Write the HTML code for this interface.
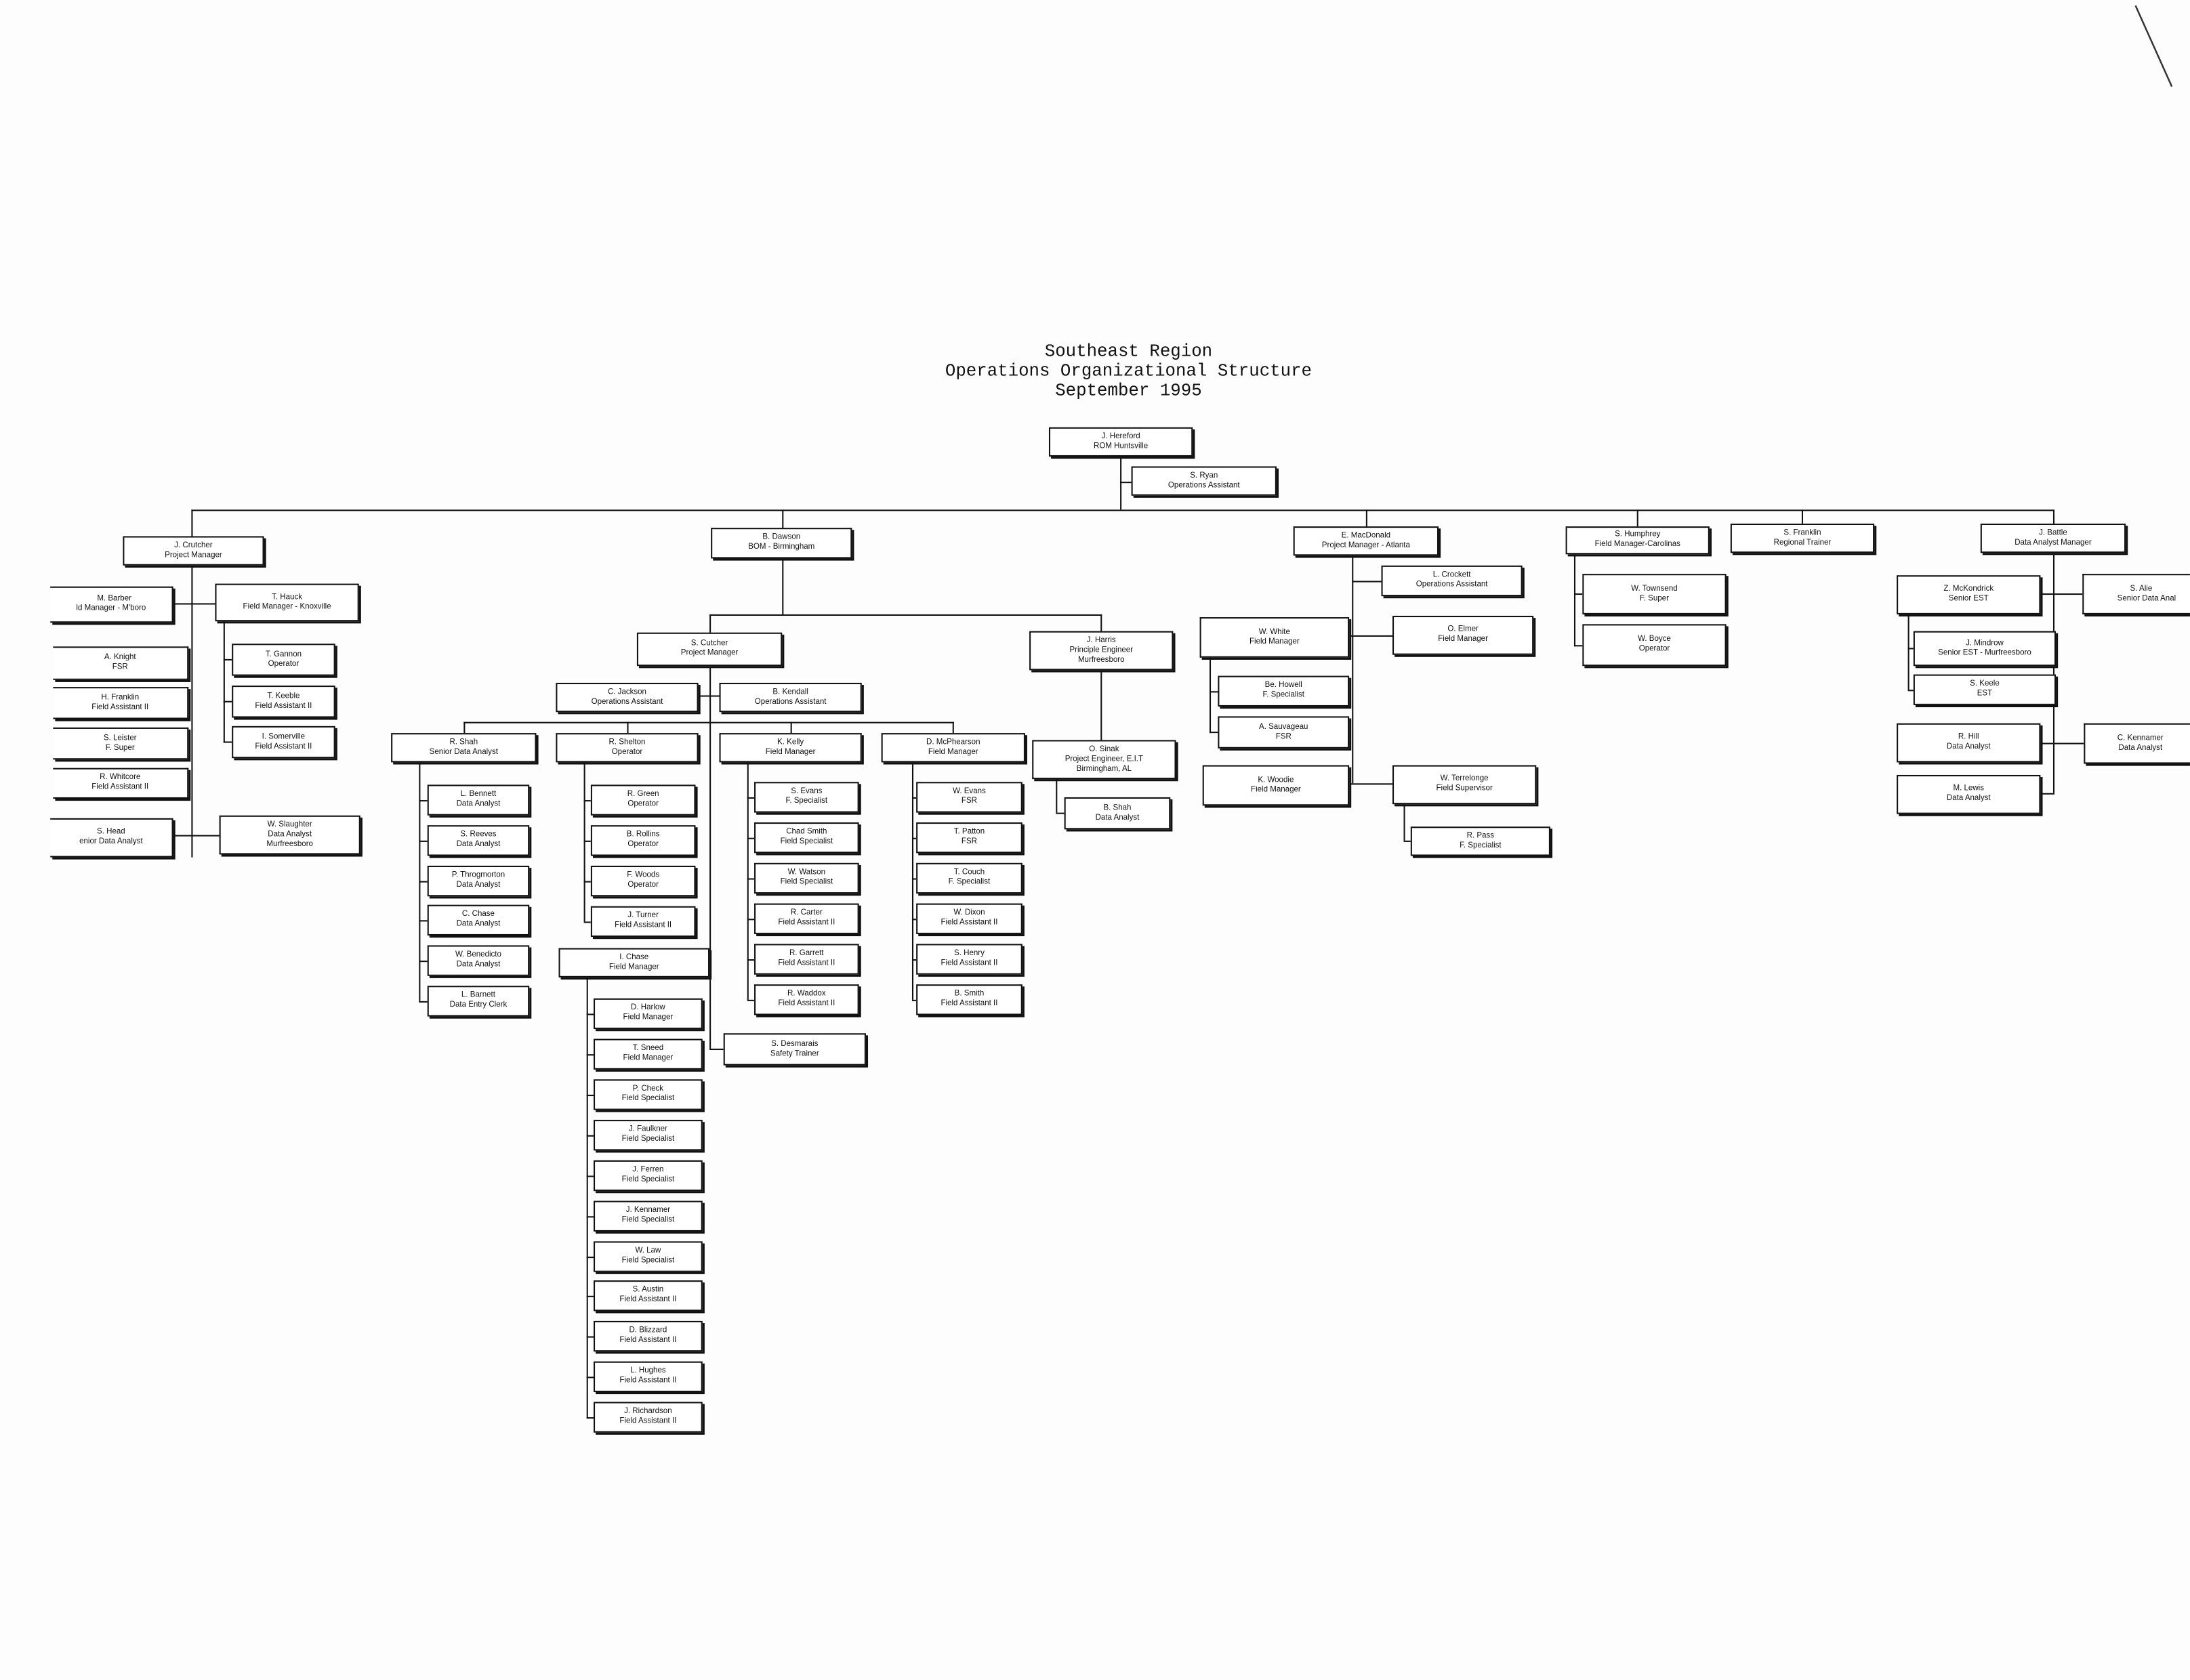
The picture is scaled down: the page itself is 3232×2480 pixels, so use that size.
<!DOCTYPE html>
<html><head><meta charset="utf-8"><style>
html,body{margin:0;padding:0;background:#fdfdfd;}
#w{position:absolute;left:0;top:0;width:1568px;height:1203px;transform:scale(2.0612);transform-origin:0 0;overflow:hidden;}
.b{position:absolute;box-sizing:border-box;border:1px solid #111;box-shadow:1.5px 1.5px 0 #111;background:#fff;display:flex;align-items:center;justify-content:center;text-align:center;font-family:"Liberation Sans",sans-serif;font-size:5.6px;line-height:7px;color:#111;white-space:nowrap;overflow:hidden;}
.h{position:absolute;height:1px;background:#111;}
.v{position:absolute;width:1px;background:#111;}
.t{position:absolute;left:608px;width:400px;text-align:center;font-family:"Liberation Mono",monospace;font-size:12.5px;line-height:14px;color:#111;}
</style></head><body><div id="w">
<div class="t" style="top:245px">Southeast Region<br>Operations Organizational Structure<br>September 1995</div>
<svg style="position:absolute;left:1525px;top:0" width="43" height="70"><line x1="4" y1="4" x2="30" y2="62" stroke="#333" stroke-width="1.2"/></svg>

<!-- top -->
<div class="v" style="left:802px;top:327px;height:38px"></div>
<div class="h" style="left:802px;top:345px;width:8px"></div>
<div class="h" style="left:137px;top:365px;width:1334px"></div>
<div class="v" style="left:137px;top:365px;height:249px"></div>
<div class="v" style="left:560px;top:365px;height:75px"></div>
<div class="v" style="left:978px;top:365px;height:13px"></div>
<div class="v" style="left:1172px;top:365px;height:12px"></div>
<div class="v" style="left:1290px;top:365px;height:10px"></div>
<div class="v" style="left:1470px;top:365px;height:203px"></div>
<div class="b" style="left:751px;top:306px;width:103px;height:21px">J. Hereford<br>ROM Huntsville</div>
<div class="b" style="left:810px;top:334px;width:104px;height:21px">S. Ryan<br>Operations Assistant</div>

<!-- Crutcher -->
<div class="b" style="left:88px;top:384px;width:101px;height:21px">J. Crutcher<br>Project Manager</div>
<div class="h" style="left:124px;top:432px;width:30px"></div>
<div class="b" style="left:36px;top:420px;width:88px;height:26px;border-left:none">&nbsp;&nbsp;&nbsp;M. Barber<br>ld Manager - M'boro</div>
<div class="b" style="left:154px;top:418px;width:103px;height:27px">T. Hauck<br>Field Manager - Knoxville</div>
<div class="b" style="left:38px;top:463px;width:97px;height:24px;border-left:none">A. Knight<br>FSR</div>
<div class="b" style="left:38px;top:492px;width:97px;height:23px;border-left:none">H. Franklin<br>Field Assistant II</div>
<div class="b" style="left:38px;top:521px;width:97px;height:23px;border-left:none">S. Leister<br>F. Super</div>
<div class="b" style="left:38px;top:550px;width:97px;height:22px;border-left:none">R. Whitcore<br>Field Assistant II</div>
<div class="h" style="left:124px;top:598px;width:33px"></div>
<div class="b" style="left:36px;top:586px;width:88px;height:28px;border-left:none">S. Head<br>enior Data Analyst</div>
<div class="b" style="left:157px;top:584px;width:101px;height:28px">W. Slaughter<br>Data Analyst<br>Murfreesboro</div>
<div class="v" style="left:160px;top:445px;height:87px"></div>
<div class="h" style="left:160px;top:472px;width:6px"></div>
<div class="h" style="left:160px;top:502px;width:6px"></div>
<div class="h" style="left:160px;top:531px;width:6px"></div>
<div class="b" style="left:166px;top:461px;width:74px;height:23px">T. Gannon<br>Operator</div>
<div class="b" style="left:166px;top:491px;width:74px;height:23px">T. Keeble<br>Field Assistant II</div>
<div class="b" style="left:166px;top:520px;width:74px;height:23px">I. Somerville<br>Field Assistant II</div>

<!-- Dawson -->
<div class="b" style="left:509px;top:378px;width:101px;height:22px">B. Dawson<br>BOM - Birmingham</div>
<div class="h" style="left:508px;top:440px;width:281px"></div>
<div class="v" style="left:508px;top:440px;height:311px"></div>
<div class="v" style="left:788px;top:440px;height:90px"></div>
<div class="b" style="left:456px;top:453px;width:104px;height:24px">S. Cutcher<br>Project Manager</div>
<div class="b" style="left:737px;top:452px;width:103px;height:28px">J. Harris<br>Principle Engineer<br>Murfreesboro</div>
<div class="h" style="left:500px;top:498px;width:15px"></div>
<div class="b" style="left:398px;top:489px;width:102px;height:21px">C. Jackson<br>Operations Assistant</div>
<div class="b" style="left:515px;top:489px;width:102px;height:21px">B. Kendall<br>Operations Assistant</div>
<div class="h" style="left:332px;top:517px;width:351px"></div>
<div class="v" style="left:332px;top:517px;height:8px"></div>
<div class="v" style="left:449px;top:517px;height:8px"></div>
<div class="v" style="left:566px;top:517px;height:8px"></div>
<div class="v" style="left:682px;top:517px;height:8px"></div>
<div class="b" style="left:280px;top:525px;width:104px;height:21px">R. Shah<br>Senior Data Analyst</div>
<div class="b" style="left:398px;top:525px;width:102px;height:21px">R. Shelton<br>Operator</div>
<div class="b" style="left:515px;top:525px;width:102px;height:21px">K. Kelly<br>Field Manager</div>
<div class="b" style="left:631px;top:525px;width:103px;height:21px">D. McPhearson<br>Field Manager</div>

<!-- Shah children -->
<div class="v" style="left:300px;top:546px;height:171px"></div>
<div class="h" style="left:300px;top:573px;width:6px"></div>
<div class="h" style="left:300px;top:602px;width:6px"></div>
<div class="h" style="left:300px;top:631px;width:6px"></div>
<div class="h" style="left:300px;top:659px;width:6px"></div>
<div class="h" style="left:300px;top:688px;width:6px"></div>
<div class="h" style="left:300px;top:717px;width:6px"></div>
<div class="b" style="left:306px;top:562px;width:73px;height:22px">L. Bennett<br>Data Analyst</div>
<div class="b" style="left:306px;top:591px;width:73px;height:22px">S. Reeves<br>Data Analyst</div>
<div class="b" style="left:306px;top:620px;width:73px;height:22px">P. Throgmorton<br>Data Analyst</div>
<div class="b" style="left:306px;top:648px;width:73px;height:22px">C. Chase<br>Data Analyst</div>
<div class="b" style="left:306px;top:677px;width:73px;height:22px">W. Benedicto<br>Data Analyst</div>
<div class="b" style="left:306px;top:706px;width:73px;height:22px">L. Barnett<br>Data Entry Clerk</div>

<!-- Shelton -->
<div class="v" style="left:418px;top:546px;height:114px"></div>
<div class="h" style="left:418px;top:573px;width:5px"></div>
<div class="h" style="left:418px;top:602px;width:5px"></div>
<div class="h" style="left:418px;top:631px;width:5px"></div>
<div class="h" style="left:418px;top:660px;width:5px"></div>
<div class="b" style="left:423px;top:562px;width:75px;height:22px">R. Green<br>Operator</div>
<div class="b" style="left:423px;top:591px;width:75px;height:22px">B. Rollins<br>Operator</div>
<div class="b" style="left:423px;top:620px;width:75px;height:22px">F. Woods<br>Operator</div>
<div class="b" style="left:423px;top:649px;width:75px;height:22px">J. Turner<br>Field Assistant II</div>

<!-- Kelly -->
<div class="v" style="left:535px;top:546px;height:170px"></div>
<div class="h" style="left:535px;top:571px;width:5px"></div>
<div class="h" style="left:535px;top:600px;width:5px"></div>
<div class="h" style="left:535px;top:629px;width:5px"></div>
<div class="h" style="left:535px;top:658px;width:5px"></div>
<div class="h" style="left:535px;top:687px;width:5px"></div>
<div class="h" style="left:535px;top:716px;width:5px"></div>
<div class="b" style="left:540px;top:560px;width:75px;height:22px">S. Evans<br>F. Specialist</div>
<div class="b" style="left:540px;top:589px;width:75px;height:22px">Chad Smith<br>Field Specialist</div>
<div class="b" style="left:540px;top:618px;width:75px;height:22px">W. Watson<br>Field Specialist</div>
<div class="b" style="left:540px;top:647px;width:75px;height:22px">R. Carter<br>Field Assistant II</div>
<div class="b" style="left:540px;top:676px;width:75px;height:22px">R. Garrett<br>Field Assistant II</div>
<div class="b" style="left:540px;top:705px;width:75px;height:22px">R. Waddox<br>Field Assistant II</div>

<!-- McPhearson -->
<div class="v" style="left:653px;top:546px;height:170px"></div>
<div class="h" style="left:653px;top:571px;width:3px"></div>
<div class="h" style="left:653px;top:600px;width:3px"></div>
<div class="h" style="left:653px;top:629px;width:3px"></div>
<div class="h" style="left:653px;top:658px;width:3px"></div>
<div class="h" style="left:653px;top:687px;width:3px"></div>
<div class="h" style="left:653px;top:716px;width:3px"></div>
<div class="b" style="left:656px;top:560px;width:76px;height:22px">W. Evans<br>FSR</div>
<div class="b" style="left:656px;top:589px;width:76px;height:22px">T. Patton<br>FSR</div>
<div class="b" style="left:656px;top:618px;width:76px;height:22px">T. Couch<br>F. Specialist</div>
<div class="b" style="left:656px;top:647px;width:76px;height:22px">W. Dixon<br>Field Assistant II</div>
<div class="b" style="left:656px;top:676px;width:76px;height:22px">S. Henry<br>Field Assistant II</div>
<div class="b" style="left:656px;top:705px;width:76px;height:22px">B. Smith<br>Field Assistant II</div>

<!-- Chase -->
<div class="b" style="left:400px;top:679px;width:108px;height:21px">I. Chase<br>Field Manager</div>
<div class="h" style="left:508px;top:751px;width:10px"></div>
<div class="b" style="left:518px;top:740px;width:102px;height:23px">S. Desmarais<br>Safety Trainer</div>
<div class="v" style="left:420px;top:700px;height:316px"></div>
<div class="h" style="left:420px;top:726px;width:5px"></div>
<div class="h" style="left:420px;top:755px;width:5px"></div>
<div class="h" style="left:420px;top:784px;width:5px"></div>
<div class="h" style="left:420px;top:813px;width:5px"></div>
<div class="h" style="left:420px;top:842px;width:5px"></div>
<div class="h" style="left:420px;top:871px;width:5px"></div>
<div class="h" style="left:420px;top:900px;width:5px"></div>
<div class="h" style="left:420px;top:928px;width:5px"></div>
<div class="h" style="left:420px;top:957px;width:5px"></div>
<div class="h" style="left:420px;top:986px;width:5px"></div>
<div class="h" style="left:420px;top:1015px;width:5px"></div>
<div class="b" style="left:425px;top:715px;width:78px;height:22px">D. Harlow<br>Field Manager</div>
<div class="b" style="left:425px;top:744px;width:78px;height:22px">T. Sneed<br>Field Manager</div>
<div class="b" style="left:425px;top:773px;width:78px;height:22px">P. Check<br>Field Specialist</div>
<div class="b" style="left:425px;top:802px;width:78px;height:22px">J. Faulkner<br>Field Specialist</div>
<div class="b" style="left:425px;top:831px;width:78px;height:22px">J. Ferren<br>Field Specialist</div>
<div class="b" style="left:425px;top:860px;width:78px;height:22px">J. Kennamer<br>Field Specialist</div>
<div class="b" style="left:425px;top:889px;width:78px;height:22px">W. Law<br>Field Specialist</div>
<div class="b" style="left:425px;top:917px;width:78px;height:22px">S. Austin<br>Field Assistant II</div>
<div class="b" style="left:425px;top:946px;width:78px;height:22px">D. Blizzard<br>Field Assistant II</div>
<div class="b" style="left:425px;top:975px;width:78px;height:22px">L. Hughes<br>Field Assistant II</div>
<div class="b" style="left:425px;top:1004px;width:78px;height:22px">J. Richardson<br>Field Assistant II</div>

<!-- Harris -->
<div class="b" style="left:739px;top:530px;width:103px;height:28px">O. Sinak<br>Project Engineer, E.I.T<br>Birmingham, AL</div>
<div class="v" style="left:756px;top:558px;height:24px"></div>
<div class="h" style="left:756px;top:582px;width:6px"></div>
<div class="b" style="left:762px;top:571px;width:76px;height:23px">B. Shah<br>Data Analyst</div>

<!-- MacDonald -->
<div class="b" style="left:926px;top:377px;width:104px;height:21px">E. MacDonald<br>Project Manager - Atlanta</div>
<div class="v" style="left:968px;top:398px;height:163px"></div>
<div class="h" style="left:968px;top:416px;width:21px"></div>
<div class="b" style="left:989px;top:405px;width:101px;height:22px">L. Crockett<br>Operations Assistant</div>
<div class="h" style="left:966px;top:455px;width:31px"></div>
<div class="b" style="left:859px;top:442px;width:107px;height:29px">W. White<br>Field Manager</div>
<div class="b" style="left:997px;top:441px;width:101px;height:28px">O. Elmer<br>Field Manager</div>
<div class="v" style="left:866px;top:471px;height:54px"></div>
<div class="h" style="left:866px;top:495px;width:6px"></div>
<div class="h" style="left:866px;top:524px;width:6px"></div>
<div class="b" style="left:872px;top:484px;width:94px;height:22px">Be. Howell<br>F. Specialist</div>
<div class="b" style="left:872px;top:513px;width:94px;height:23px">A. Sauvageau<br>FSR</div>
<div class="h" style="left:966px;top:561px;width:31px"></div>
<div class="b" style="left:861px;top:548px;width:105px;height:29px">K. Woodie<br>Field Manager</div>
<div class="b" style="left:997px;top:548px;width:103px;height:28px">W. Terrelonge<br>Field Supervisor</div>
<div class="v" style="left:1005px;top:576px;height:26px"></div>
<div class="h" style="left:1005px;top:602px;width:5px"></div>
<div class="b" style="left:1010px;top:592px;width:100px;height:21px">R. Pass<br>F. Specialist</div>

<!-- Humphrey -->
<div class="b" style="left:1121px;top:377px;width:103px;height:20px">S. Humphrey<br>Field Manager-Carolinas</div>
<div class="v" style="left:1127px;top:397px;height:66px"></div>
<div class="h" style="left:1127px;top:425px;width:6px"></div>
<div class="h" style="left:1127px;top:462px;width:6px"></div>
<div class="b" style="left:1133px;top:411px;width:103px;height:29px">W. Townsend<br>F. Super</div>
<div class="b" style="left:1133px;top:447px;width:103px;height:30px">W. Boyce<br>Operator</div>

<div class="b" style="left:1239px;top:375px;width:103px;height:21px">S. Franklin<br>Regional Trainer</div>

<!-- Battle -->
<div class="b" style="left:1418px;top:375px;width:104px;height:21px">J. Battle<br>Data Analyst Manager</div>
<div class="h" style="left:1461px;top:425px;width:30px"></div>
<div class="b" style="left:1358px;top:412px;width:103px;height:28px">Z. McKondrick<br>Senior EST</div>
<div class="b" style="left:1491px;top:411px;width:80px;height:29px;border-right:none">&nbsp;&nbsp;S. Alie<br>&nbsp;&nbsp;&nbsp;&nbsp;&nbsp;&nbsp;&nbsp;Senior Data Anal</div>
<div class="v" style="left:1366px;top:440px;height:54px"></div>
<div class="h" style="left:1366px;top:464px;width:4px"></div>
<div class="h" style="left:1366px;top:494px;width:4px"></div>
<div class="b" style="left:1370px;top:452px;width:102px;height:25px">J. Mindrow<br>Senior EST - Murfreesboro</div>
<div class="b" style="left:1370px;top:483px;width:102px;height:22px">S. Keele<br>EST</div>
<div class="h" style="left:1461px;top:532px;width:31px"></div>
<div class="h" style="left:1461px;top:568px;width:10px"></div>
<div class="b" style="left:1358px;top:518px;width:103px;height:28px">R. Hill<br>Data Analyst</div>
<div class="b" style="left:1492px;top:518px;width:80px;height:29px;border-right:none">C. Kennamer<br>Data Analyst</div>
<div class="b" style="left:1358px;top:555px;width:103px;height:28px">M. Lewis<br>Data Analyst</div>
</div></body></html>
